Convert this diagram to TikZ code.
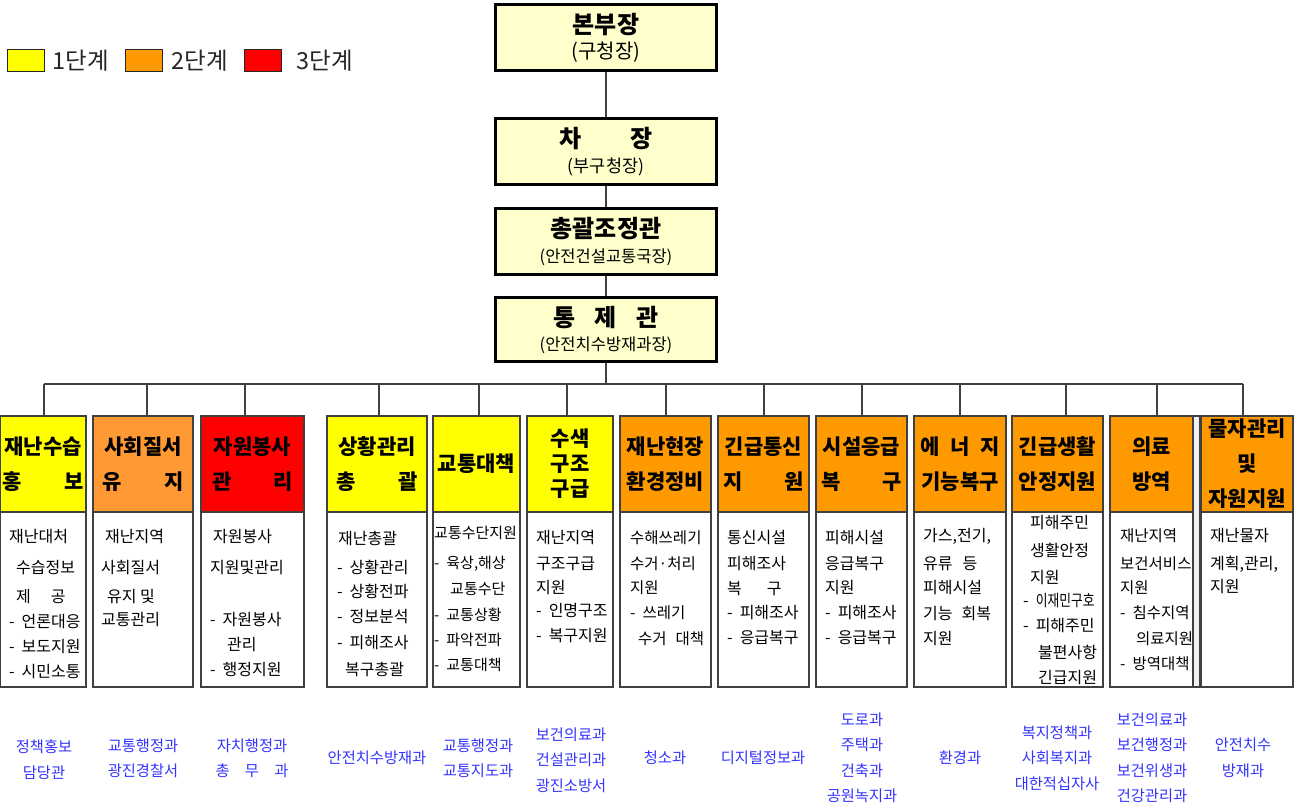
\documentclass[tikz,border=0pt]{standalone}
\usepackage{fontspec}
\usepackage{graphicx}
\setmainfont{Noto Sans CJK KR}
\usetikzlibrary{positioning}

\definecolor{lvlone}{HTML}{FFFF00}
\definecolor{lvltwo}{HTML}{FF9900}
\definecolor{lvltwolt}{HTML}{FF9933}
\definecolor{lvlthree}{HTML}{FF0000}
\definecolor{topfill}{HTML}{FFFFCC}
\definecolor{deptblue}{HTML}{3333FF}
\definecolor{linegray}{HTML}{404040}

\newcommand{\dashitem}{-\hspace{7pt}}

\tikzset{
  topbox/.style={draw=black, line width=3pt, fill=topfill, minimum width=221pt,
    minimum height=66pt, inner sep=0pt, align=center,
    font=\fontsize{24}{29}\selectfont\bfseries},
  headbox/.style={draw=linegray, line width=1.5pt, minimum height=96pt, inner sep=0pt,
    align=center, font=\fontsize{21}{35}\selectfont\bfseries},
  bodybox/.style={draw=linegray, line width=1.5pt, fill=white, minimum height=175pt, inner sep=0pt},
  bodytext/.style={anchor=north west, align=left, inner sep=0pt, font=\fontsize{16}{25}\selectfont},
  depttext/.style={align=center, inner sep=0pt, text=deptblue, font=\fontsize{15.3}{25.5}\selectfont},
  legendbox/.style={draw=black!85, line width=1.5pt, minimum width=37pt, minimum height=22pt, inner sep=0pt},
  legendtext/.style={inner sep=0pt, text=black!85, font=\fontsize{23.5}{25}\selectfont},
  conn/.style={draw=linegray, line width=1.3pt}
}

\begin{document}
\begin{tikzpicture}[x=1pt,y=-1pt]
  \useasboundingbox (0,0) rectangle (1297,808);

  % legend
  \node[legendbox, fill=lvlone] (lg1) at (26,60.5) {};
  \node[legendtext, right=7pt of lg1] (lt1) {1단계};
  \node[legendbox, fill=lvltwo] (lg2) at (144,60.5) {};
  \node[legendtext, right=8pt of lg2] (lt2) {2단계};
  \node[legendbox, fill=lvlthree] (lg3) at (263,60.5) {};
  \node[legendtext, right=14pt of lg3] (lt3) {3단계};

  % command chain
  \node[topbox] (chief) at (606,37.5) {본부장\\[-4pt]{\fontsize{20}{25}\selectfont\mdseries (구청장)}};
  \node[topbox] (vice) at (606,151.5) {차\hspace{2em}장\\[-4pt]{\fontsize{17.5}{25}\selectfont\mdseries (부구청장)}};
  \node[topbox] (coord) at (606,241.5) {총괄조정관\\[-4pt]{\fontsize{16.5}{25}\selectfont\mdseries (안전건설교통국장)}};
  \node[topbox, minimum height=64pt] (ctrl) at (606,329.5) {통\hspace{.8em}제\hspace{.8em}관\\[-5pt]{\fontsize{16.5}{25}\selectfont\mdseries (안전치수방재과장)}};
  \foreach \from/\to in {chief/vice,vice/coord,coord/ctrl}
  \draw[conn] (\from) -- (\to);

  % task teams
  \foreach \n/\cx/\w/\col/\txt in {
    1/43/86/lvlone/{재난수습\\홍\hspace{2em}보},
    2/143/100/lvltwolt/{사회질서\\유\hspace{2em}지},
    3/252.5/103/lvlthree/{자원봉사\\관\hspace{2em}리},
    4/377/100/lvlone/{상황관리\\총\hspace{2em}괄},
    5/476.5/87/lvlone/{교통대책},
    6/570/86/lvlone/{수색\\[-10pt]구조\\[-10pt]구급},
    7/665.5/91/lvltwo/{재난현장\\환경정비},
    8/763.5/91/lvltwo/{긴급통신\\지\hspace{2em}원},
    9/861.5/91/lvltwo/{시설응급\\복\hspace{2em}구},
    10/960/92/lvltwo/{에\hspace{.5em}너\hspace{.5em}지\\기능복구},
    11/1057.5/91/lvltwo/{긴급생활\\안정지원},
    12/1151.5/83/lvltwo/{의료\\방역},
    13/1247/92/lvltwo/{물자관리\\및\\자원지원}}
  {
    \node[headbox, fill=\col, minimum width=\w pt] (h\n) at (\cx,464) {\txt};
    \node[bodybox, minimum width=\w pt] (b\n) at (\cx,599.5) {};
  }
  \node[draw=linegray, line width=1.2pt, fill=black!6, minimum width=7pt, minimum height=271pt, inner sep=0pt] (gap) at (1196.5,551.5) {};

  % bus
  \node[coordinate] (bus) at (606,384) {};
  \draw[conn] (ctrl) -- (bus);
  \foreach \n/\x in {1/44,2/147,3/245,4/379,5/479,6/567,7/666,8/764,9/862,10/960,11/1066,12/1157,13/1243}
  {
    \coordinate (d\n) at (\x,384);
    \draw[conn] (d\n) -- (d\n |- h\n.north);
  }
  \draw[conn] (d1) -- (d13);

  % duties
  \node[bodytext] (t1) at (9,529) {재난대처\\[6pt]\hspace{7pt}수습정보\\[4pt]\hspace{7pt}제\hspace{20pt}공\\\dashitem 언론대응\\\dashitem 보도지원\\\dashitem 시민소통};
  \node[bodytext] (t2) at (101,529) {\hspace{4pt}재난지역\\[6pt]사회질서\\[4pt]\hspace{6pt}유지 및\\[-2pt]교통관리};
  \node[bodytext] (t3) at (210,529) {\hspace{3pt}자원봉사\\[6pt]지원및관리\\[27pt]\dashitem 자원봉사\\\hspace{17pt}관리\\\dashitem 행정지원};
  \node[bodytext] (t4) at (337,531) {\hspace{1pt}재난총괄\\[4pt]\dashitem 상황관리\\[-1pt]\dashitem 상황전파\\\dashitem 정보분석\\[1pt]\dashitem 피해조사\\[2pt]\hspace{8pt}복구총괄};
  \node[bodytext, font=\fontsize{15}{25}\selectfont] (t5) at (434,526) {교통수단지원\\[5pt]\dashitem 육상,해상\\[1pt]\hspace{16pt}교통수단\\[1pt]\dashitem 교통상황\\\dashitem 파악전파\\\dashitem 교통대책};
  \node[bodytext] (t6) at (536,530) {재난지역\\[1pt]구조구급\\[-1pt]지원\\[-2pt]\dashitem 인명구조\\\dashitem 복구지원};
  \node[bodytext, font=\fontsize{15.5}{25}\selectfont] (t7) at (630,530) {수해쓰레기\\[1pt]수거·처리\\[-1pt]지원\\\dashitem 쓰레기\\[1pt]\hspace{8pt}수거\hspace{9pt}대책};
  \node[bodytext] (t8) at (727,530) {통신시설\\[1pt]피해조사\\복\hspace{25pt}구\\[-1pt]\dashitem 피해조사\\\dashitem 응급복구};
  \node[bodytext] (t9) at (825,530) {피해시설\\[1pt]응급복구\\[-1pt]지원\\\dashitem 피해조사\\\dashitem 응급복구};
  \node[bodytext] (t10) at (923,528) {가스,전기,\\[3pt]유류\hspace{10pt}등\\[-1pt]피해시설\\[1pt]기능\hspace{9pt}회복\\지원};
  \node[bodytext] (t11) at (1023,515) {\hspace{7pt}피해주민\\[3pt]\hspace{7pt}생활안정\\[2pt]\hspace{7pt}지원\\[-2pt]\dashitem\scalebox{0.8}[1]{이재민구호}\\\dashitem 피해주민\\[2pt]\hspace{15pt}불편사항\\\hspace{15pt}긴급지원};
  \node[bodytext, font=\fontsize{15.5}{25}\selectfont] (t12) at (1120,528) {재난지역\\[3pt]보건서비스\\[-1pt]지원\\\dashitem 침수지역\\[1pt]\hspace{16pt}의료지원\\\dashitem 방역대책};
  \node[bodytext] (t13) at (1210,528) {재난물자\\[3pt]계획,관리,\\[-2pt]지원};

  % departments in charge
  \node[depttext] (p1) at (44,759.5) {정책홍보\\담당관};
  \node[depttext] (p2) at (143,758.5) {교통행정과\\광진경찰서};
  \node[depttext] (p3) at (252,758.5) {자치행정과\\총\hspace{1em}무\hspace{1em}과};
  \node[depttext] (p4) at (377,758) {안전치수방재과};
  \node[depttext] (p5) at (478,758.5) {교통행정과\\교통지도과};
  \node[depttext] (p6) at (571,760) {보건의료과\\건설관리과\\광진소방서};
  \node[depttext] (p7) at (665,758) {청소과};
  \node[depttext] (p8) at (763,758) {디지털정보과};
  \node[depttext] (p9) at (862,758) {도로과\\주택과\\건축과\\공원녹지과};
  \node[depttext] (p10) at (960,758) {환경과};
  \node[depttext] (p11) at (1057,758) {복지정책과\\사회복지과\\대한적십자사};
  \node[depttext] (p12) at (1152,758) {보건의료과\\보건행정과\\보건위생과\\건강관리과};
  \node[depttext] (p13) at (1243,758) {안전치수\\방재과};
\end{tikzpicture}
\end{document}
